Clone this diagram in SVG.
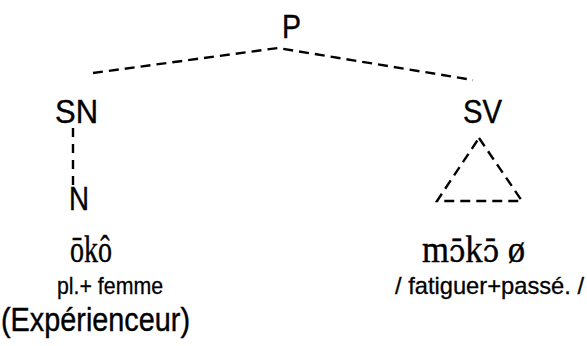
<svg xmlns="http://www.w3.org/2000/svg" width="587" height="346" viewBox="0 0 587 346">
<style>
text{fill:#000;stroke:#000;stroke-width:0.4}
.lbl{font-family:"Liberation Sans",Arial,sans-serif;font-size:33px}
.sm{font-family:"Liberation Sans",Arial,sans-serif;font-size:24px;stroke-width:0.3}
.ser{font-family:"Liberation Serif","Times New Roman",serif;font-size:37px}
.ipa{font-family:"DejaVu Serif",serif;font-size:31px}
.dash{fill:none;stroke:#000;stroke-width:2.4;stroke-dasharray:10 6}
</style>
<rect width="587" height="346" fill="#fff"/>
<g id="connectors">
<path class="dash" d="M93,73 L278,48 L473,80"/>
<path class="dash" d="M73,128 L73,188" style="stroke-dasharray:9 7"/>
<path class="dash" d="M479,138 L522,201 L437,201 Z"/>
</g>
<g id="P"><text class="lbl" x="282" y="38" textLength="19" lengthAdjust="spacingAndGlyphs">P</text></g>
<g id="SN"><text class="lbl" x="55" y="123" textLength="43" lengthAdjust="spacingAndGlyphs">SN</text></g>
<g id="SV"><text class="lbl" x="463" y="123" textLength="39" lengthAdjust="spacingAndGlyphs">SV</text></g>
<g id="N"><text class="lbl" x="69" y="210" textLength="20" lengthAdjust="spacingAndGlyphs">N</text></g>
<g id="oko">
<text class="ser" x="70" y="262" textLength="42" lengthAdjust="spacingAndGlyphs">ōkô</text>
<text class="sm" x="57" y="294" textLength="106" lengthAdjust="spacingAndGlyphs">pl.+ femme</text>
<text class="lbl" x="1" y="331" textLength="189" lengthAdjust="spacingAndGlyphs">(Expérienceur)</text>
</g>
<g id="moko">
<text class="ser" x="422" y="262" textLength="103" lengthAdjust="spacingAndGlyphs">m<tspan class="ipa">ɔ̄</tspan>k<tspan class="ipa">ɔ̄</tspan> ø</text>
<text class="sm" x="395" y="294" textLength="189" lengthAdjust="spacingAndGlyphs">/ fatiguer+passé. /</text>
</g>
</svg>
